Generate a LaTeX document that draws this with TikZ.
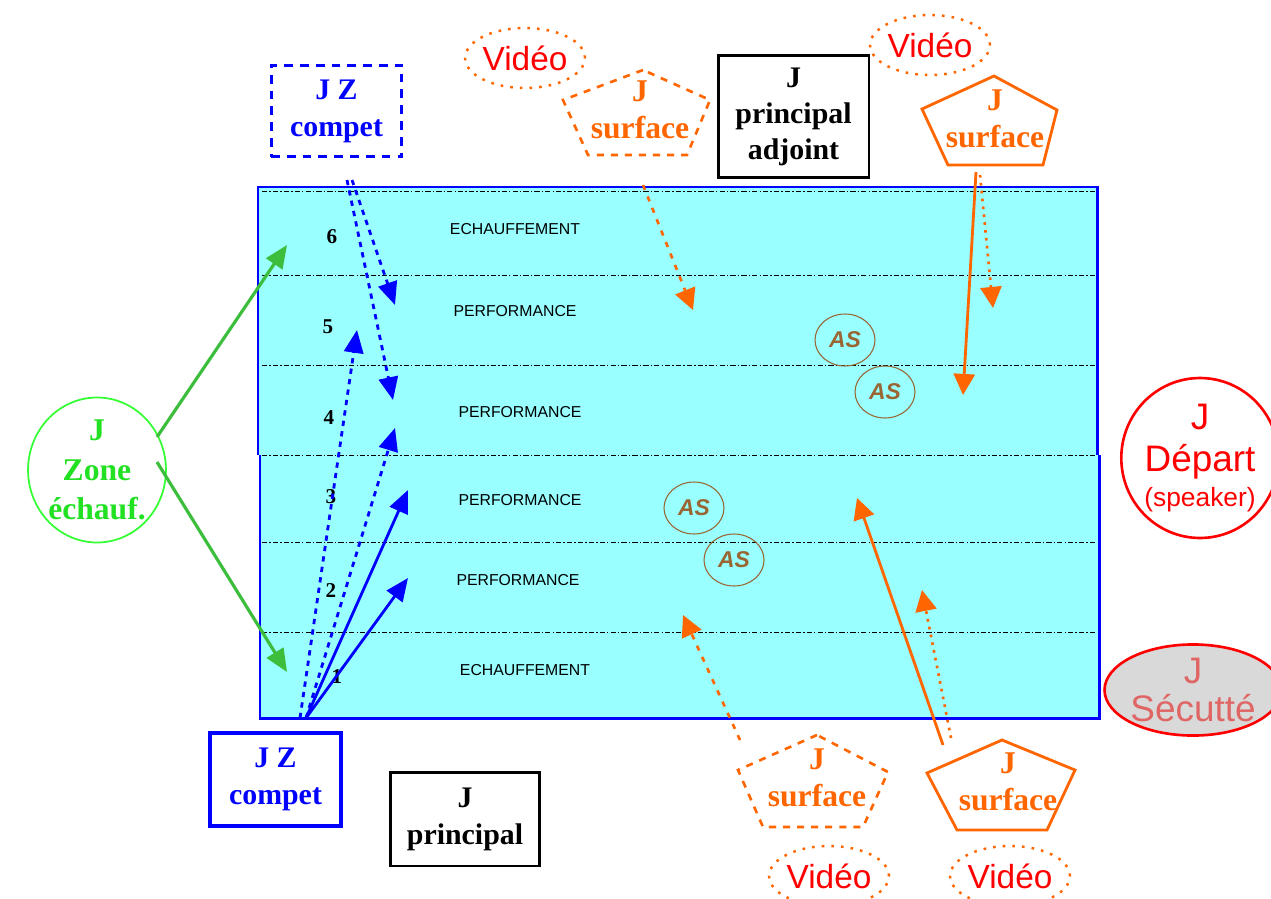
\documentclass[tikz,border=0pt]{standalone}
\usepackage{fontspec}
\setmainfont{Liberation Serif}
\newfontfamily\arial{Liberation Sans}
\usetikzlibrary{arrows.meta,shapes.geometric}
\definecolor{poolc}{HTML}{99FFFF}
\definecolor{bl}{HTML}{0000FF}
\definecolor{org}{HTML}{FF6600}
\definecolor{grn}{HTML}{3CBE3C}
\definecolor{grnl}{HTML}{33FF33}
\definecolor{grnt}{HTML}{22E022}
\definecolor{brn}{HTML}{996633}
\definecolor{secr}{HTML}{E06666}
\definecolor{secf}{HTML}{D9D9D9}
\begin{document}
\begin{tikzpicture}[x=0.02cm,y=-0.02cm,
  jtext/.style={align=center,font=\bfseries\fontsize{17}{21}\selectfont,inner sep=0pt},
  jbox/.style={draw,line width=1.7pt,jtext},
  video/.style={ellipse,draw=org,line width=1.4pt,dash pattern=on 1.5pt off 4pt,text=red,
    font=\arial\fontsize{19}{20}\selectfont,minimum width=2.3cm,minimum height=1.2cm,inner sep=0pt},
  asnode/.style={ellipse,draw=brn,line width=0.6pt,text=brn,
    font=\arial\bfseries\itshape\fontsize{13}{14}\selectfont,minimum width=1.2cm,minimum height=1.04cm,inner sep=0pt},
  lane/.style={font=\arial\fontsize{9}{10}\selectfont,inner sep=0pt},
  num/.style={font=\bfseries\fontsize{12}{13}\selectfont,inner sep=0pt},
  lanesep/.style={black,line width=0.5pt,dash pattern=on 3pt off 1.2pt on 0.8pt off 1.2pt},
  surf/.style={org,line width=1.6pt},
  surfd/.style={org,line width=1.5pt,dash pattern=on 4pt off 4pt},
  stext/.style={text=org,align=center,font=\bfseries\fontsize{18}{21}\selectfont,inner sep=0pt},
  barr/.style={bl,line width=1.6pt,-{Triangle[length=13pt,width=11pt]}},
  bdarr/.style={bl,line width=1.6pt,dash pattern=on 3pt off 3pt,-{Triangle[length=13pt,width=11pt]}},
  garr/.style={grn,line width=1.8pt,-{Triangle[length=13pt,width=11pt]}},
  oarr/.style={org,line width=1.6pt,-{Triangle[length=12pt,width=12pt]}},
  odarr/.style={org,line width=1.5pt,dash pattern=on 3pt off 4pt,-{Triangle[length=12pt,width=12pt]}},
  odotarr/.style={org,line width=1.5pt,dash pattern=on 1.5pt off 3pt,-{Triangle[length=12pt,width=12pt]}}
]
\useasboundingbox (0,0) rectangle (1271,899);

% pool
\fill[poolc] (258,187) rectangle (1097,455);
\fill[poolc] (260,455) rectangle (1099,718);
\draw[bl,line width=1.7pt] (258,455) -- (258,187) -- (1097,187) -- (1097,455);
\draw[bl,line width=1.7pt] (260,455) -- (260,718) -- (1099,718) -- (1099,455);
\foreach \yy in {191,275,365,455,542,632} {
  \draw[lanesep] (262,\yy) -- (1095,\yy);
}

% lane labels
\node[lane] (l6) at (515,229) {ECHAUFFEMENT};
\node[lane] (l5) at (515,311) {PERFORMANCE};
\node[lane] (l4) at (520,412) {PERFORMANCE};
\node[lane] (l3) at (520,500) {PERFORMANCE};
\node[lane] (l2) at (518,580) {PERFORMANCE};
\node[lane] (l1) at (525,670) {ECHAUFFEMENT};

\node[num] (n6) at (332,237) {6};
\node[num] (n5) at (328,327) {5};
\node[num] (n4) at (329,418) {4};
\node[num] (n3) at (331,497) {3};
\node[num] (n2) at (331,591) {2};
\node[num] (n1) at (337,677) {1};

% AS
\node[asnode] (as1) at (845,340) {AS};
\node[asnode] (as2) at (885,392) {AS};
\node[asnode] (as3) at (694,508) {AS};
\node[asnode] (as4) at (734,560) {AS};

% boxes
\node[jbox,draw=bl,text=bl,dash pattern=on 5pt off 4pt,minimum width=2.62cm,minimum height=1.84cm] (jzt) at (336.5,111) {J Z\\compet};
\node[jbox,draw=bl,text=bl,line width=2pt,minimum width=2.62cm,minimum height=1.86cm] (jzb) at (275.5,779.5) {J Z\\compet};
\node[jbox,minimum width=3.0cm,minimum height=1.88cm] (pr) at (465,819) {J\\principal};
\node[jbox,minimum width=3.02cm,minimum height=2.46cm,font=\bfseries\fontsize{17}{20.5}\selectfont] (pa) at (793.5,116.5) {J\\principal\\adjoint};

% ellipses
\node[ellipse,draw=grnl,line width=1pt,text=grnt,align=center,inner sep=0pt,
  font=\bfseries\fontsize{18}{22.5}\selectfont,minimum width=2.4cm,minimum height=2.9cm] (zn) at (97,470) {J\\Zone\\échauf.};
\node[ellipse,draw=red,line width=1.5pt,text=red,align=center,inner sep=0pt,
  font=\arial\fontsize{21}{24}\selectfont,minimum width=2.9cm,minimum height=3.2cm] (dp) at (1200,458) {J\\Départ\\[-4pt]{\fontsize{15}{16}\selectfont(speaker)}};
\node[ellipse,draw=red,fill=secf,line width=1.5pt,text=secr,align=center,inner sep=0pt,
  font=\arial\fontsize{21}{22}\selectfont,minimum width=3.2cm,minimum height=1.6cm] (sc) at (1193,690) {J\\Sécutté};

% videos
\node[video] (v1) at (525,58) {Vidéo};
\node[video] (v2) at (930,45) {Vidéo};
\node[video] (v3) at (829,876) {Vidéo};
\node[video] (v4) at (1010,876) {Vidéo};

% surfaces
\draw[surfd] (643,70) -- (563,100) -- (588,155) -- (687,155) -- (710,100) -- cycle;
\node[stext] (s1) at (640,110) {J\\surface};
\draw[surf] (994,76) -- (922,109) -- (948,165) -- (1043,165) -- (1057,110) -- cycle;
\node[stext] (s2) at (995,119) {J\\surface};
\draw[surfd] (817,735) -- (738,770) -- (763,827) -- (863,827) -- (888,772) -- cycle;
\node[stext] (s3) at (817,778) {J\\surface};
\draw[surf] (1002,740) -- (927,773) -- (957,830) -- (1047,830) -- (1075,770) -- cycle;
\node[stext] (s4) at (1008,782) {J\\surface};

% coordinates
\coordinate (gz1) at (157,437);
\coordinate (gz2) at (157,462);
\coordinate (g6) at (287,245);
\coordinate (g1) at (287,672);
\coordinate (bs1) at (306,718);
\coordinate (bs2) at (300,718);
\coordinate (b3) at (408,490);
\coordinate (b2) at (408,578);
\coordinate (b5) at (357,330);
\coordinate (b4) at (395,428);
\coordinate (bt1) at (347,180);
\coordinate (bt2) at (352,180);
\coordinate (bt5) at (395,305);
\coordinate (bt4) at (393,400);
\coordinate (os1) at (643,185);
\coordinate (oe1) at (693,310);
\coordinate (os2a) at (980,175);
\coordinate (oe2a) at (993,308);
\coordinate (os2b) at (976,172);
\coordinate (oe2b) at (963,395);
\coordinate (os4a) at (943,745);
\coordinate (oe4a) at (857,498);
\coordinate (os4b) at (951,738);
\coordinate (oe4b) at (922,590);
\coordinate (os3) at (740,740);
\coordinate (oe3) at (683,615);

% green arrows
\draw[garr] (gz1) -- (g6);
\draw[garr] (gz2) -- (g1);

% blue arrows
\draw[barr] (bs1) -- (b3);
\draw[barr] (bs1) -- (b2);
\draw[bdarr] (bs2) -- (b5);
\draw[bdarr] (bs1) -- (b4);
\draw[bdarr] (bt1) -- (bt4);
\draw[bdarr] (bt2) -- (bt5);

% orange arrows
\draw[odarr] (os1) -- (oe1);
\draw[odotarr] (os2a) -- (oe2a);
\draw[oarr] (os2b) -- (oe2b);
\draw[oarr] (os4a) -- (oe4a);
\draw[odotarr] (os4b) -- (oe4b);
\draw[odarr] (os3) -- (oe3);
\end{tikzpicture}
\end{document}
